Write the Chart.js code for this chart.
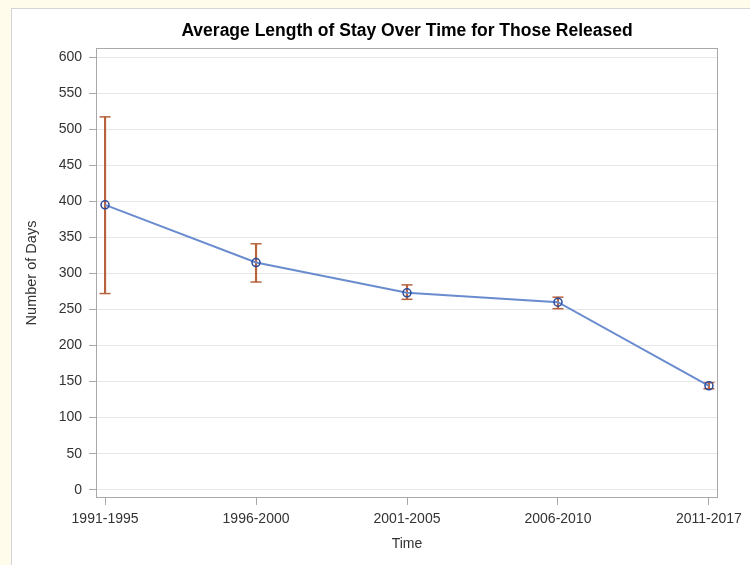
<!DOCTYPE html>
<html>
<head>
<meta charset="utf-8">
<script src="https://cdn.jsdelivr.net/npm/chart.js@4/dist/chart.umd.min.js"></script>
<style>
  html, body { margin: 0; padding: 0; width: 750px; height: 565px; overflow: hidden; background: #FFFCEB; }
  #panel { position: absolute; left: 11px; top: 8px; right: 0; bottom: 0; background: #ffffff;
           border-left: 1px solid #D4D4D4; border-top: 1px solid #D4D4D4; }
  #c { position: absolute; left: 0; top: 0; }
</style>
</head>
<body>
<div id="panel"></div>
<canvas id="c" width="750" height="565"></canvas>
<script>
const categories = ['1991-1995', '1996-2000', '2001-2005', '2006-2010', '2011-2017'];
const meanDays   = [395, 315, 273, 260, 144];
const upperDays  = [517, 341, 284, 267, 148.5];
const lowerDays  = [272, 288, 264, 251, 140];
const yTicks     = [0, 50, 100, 150, 200, 250, 300, 350, 400, 450, 500, 550, 600];

const FONT = "'Liberation Sans', Arial, Helvetica, sans-serif";
const WHISKER = '#B8633F';

const framePlugin = {
  id: 'frame',
  afterDatasetsDraw(chart) {
    const {ctx, chartArea: a} = chart;
    ctx.save();
    ctx.strokeStyle = '#A9A9A9';
    ctx.lineWidth = 1;
    ctx.strokeRect(Math.round(a.left) + 0.5, Math.round(a.top) + 0.5,
                   Math.round(a.right - a.left) - 1, Math.round(a.bottom - a.top) - 1);
    ctx.restore();
  }
};

new Chart(document.getElementById('c'), {
  data: {
    datasets: [
      {
        type: 'line',
        label: 'Mean',
        data: categories.map((c, i) => ({x: i, y: meanDays[i]})),
        borderColor: '#6A8CCF',
        borderWidth: 2,
        pointStyle: 'circle',
        pointRadius: 4,
        pointBorderColor: '#2B4C9B',
        pointBackgroundColor: 'rgba(255,255,255,0)',
        pointBorderWidth: 1.5,
        order: 0
      },
      {
        type: 'bar',
        label: 'Range',
        data: categories.map((c, i) => ({x: i, y: [lowerDays[i], upperDays[i]]})),
        backgroundColor: WHISKER,
        borderWidth: 0,
        barThickness: 1.5,
        order: 2
      },
      {
        type: 'line',
        label: 'Upper',
        data: categories.map((c, i) => ({x: i, y: upperDays[i]})),
        showLine: false,
        pointStyle: 'line',
        pointRadius: 5.5,
        pointBorderColor: WHISKER,
        pointBorderWidth: 1.5,
        order: 1
      },
      {
        type: 'line',
        label: 'Lower',
        data: categories.map((c, i) => ({x: i, y: lowerDays[i]})),
        showLine: false,
        pointStyle: 'line',
        pointRadius: 5.5,
        pointBorderColor: WHISKER,
        pointBorderWidth: 1.5,
        order: 1
      }
    ]
  },
  options: {
    responsive: false,
    animation: false,
    events: [],
    layout: { padding: { left: 0, right: 32, top: 0, bottom: 0 } },
    plugins: {
      legend: { display: false },
      tooltip: { enabled: false },
      title: {
        display: true,
        text: 'Average Length of Stay Over Time for Those Released',
        fullSize: false,
        color: '#000000',
        font: { family: FONT, size: 17.5, weight: 'bold', lineHeight: 1.2 },
        padding: { top: 20.5, bottom: 6.5 }
      }
    },
    scales: {
      x: {
        type: 'linear',
        offset: false,
        min: -0.06,
        max: 4.06,
        afterBuildTicks(scale) { scale.ticks = categories.map((c, i) => ({value: i})); },
        afterFit(scale) { scale.height = 67; },
        ticks: {
          callback: (v) => categories[v],
          color: '#333333',
          font: { family: FONT, size: 14 },
          padding: 5.6,
          maxRotation: 0,
          autoSkip: false
        },
        grid: { offset: false, drawOnChartArea: false, tickLength: 7, tickColor: '#A9A9A9', tickWidth: 1 },
        border: { display: false },
        title: {
          display: true, text: 'Time', color: '#333333',
          font: { family: FONT, size: 14, lineHeight: 1.2 },
          padding: { top: 12.6, bottom: 12.6 }
        }
      },
      y: {
        type: 'linear',
        min: -11.5,
        max: 612.5,
        afterBuildTicks(scale) { scale.ticks = yTicks.map(v => ({value: v})); },
        afterFit(scale) { scale.width = 96; },
        ticks: {
          color: '#333333',
          font: { family: FONT, size: 14 },
          padding: 7
        },
        grid: { color: '#E6E6E6', lineWidth: 1, tickLength: 7, tickColor: '#A9A9A9', tickWidth: 1 },
        border: { display: false },
        title: {
          display: true, text: 'Number of Days', color: '#333333',
          font: { family: FONT, size: 14.5, lineHeight: 1.2 },
          padding: { top: 23.5, bottom: 23.5 }
        }
      }
    }
  },
  plugins: [framePlugin]
});
</script>
</body>
</html>
